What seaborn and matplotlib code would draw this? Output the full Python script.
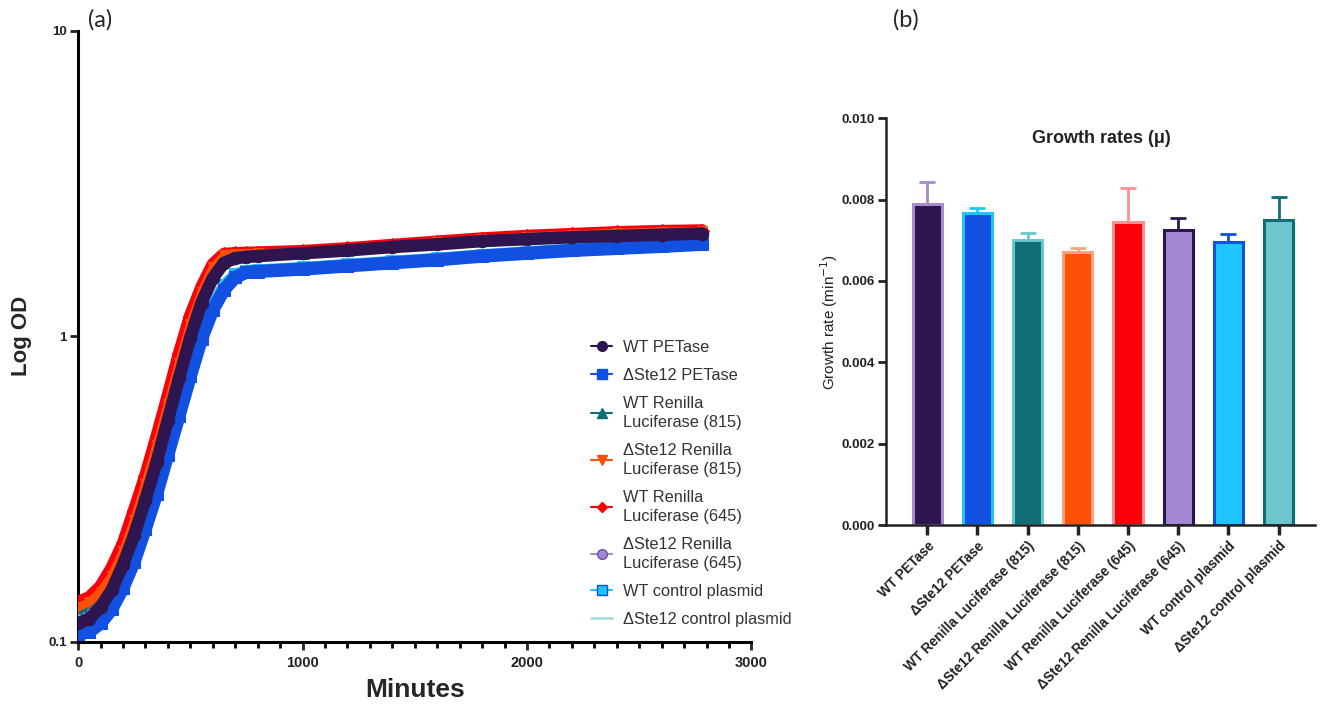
import numpy as np
import pandas as pd
import matplotlib
matplotlib.use("Agg")
import matplotlib.pyplot as plt
import seaborn as sns
from matplotlib.lines import Line2D
from matplotlib.ticker import FixedLocator, MultipleLocator, NullLocator, FormatStrFormatter

sns.set_theme(style="ticks")
plt.rcParams['font.family'] = ['Liberation Sans', 'DejaVu Sans']

# ---------------- data: growth curves (panel a) ----------------
minutes = [0, 50, 100, 150, 200, 250, 300, 350, 400, 450, 500, 550, 600, 650, 700,
           750, 800, 1000, 1200, 1400, 1600, 1800, 2000, 2200, 2400, 2600, 2780]

od_wt_petase = [0.115, 0.119, 0.130, 0.148, 0.179, 0.224, 0.292, 0.388, 0.533, 0.731,
                0.99, 1.29, 1.55, 1.74, 1.80, 1.82, 1.83, 1.87, 1.91, 1.96, 2.00,
                2.05, 2.08, 2.11, 2.13, 2.15, 2.17]
od_ste12_petase = [0.106, 0.108, 0.115, 0.128, 0.150, 0.183, 0.235, 0.305, 0.41, 0.55,
                   0.74, 0.98, 1.22, 1.42, 1.56, 1.62, 1.63, 1.66, 1.70, 1.74, 1.78,
                   1.83, 1.87, 1.91, 1.94, 1.97, 2.00]
od_wt_rl815 = [0.125, 0.129, 0.140, 0.160, 0.192, 0.243, 0.32, 0.43, 0.58, 0.80,
               1.07, 1.37, 1.65, 1.82, 1.85, 1.855, 1.86, 1.88, 1.92, 1.97, 2.02,
               2.07, 2.11, 2.14, 2.17, 2.19, 2.20]
od_ste12_rl815 = [0.130, 0.135, 0.146, 0.165, 0.198, 0.25, 0.33, 0.44, 0.60, 0.82,
                  1.10, 1.40, 1.68, 1.84, 1.86, 1.865, 1.87, 1.89, 1.93, 1.98, 2.03,
                  2.08, 2.12, 2.15, 2.18, 2.20, 2.21]
od_wt_rl645 = [0.135, 0.140, 0.152, 0.175, 0.21, 0.27, 0.35, 0.47, 0.64, 0.88,
               1.17, 1.45, 1.72, 1.86, 1.87, 1.875, 1.88, 1.90, 1.94, 1.99, 2.04,
               2.09, 2.13, 2.16, 2.19, 2.21, 2.22]
od_ste12_rl645 = [0.122, 0.126, 0.137, 0.157, 0.19, 0.24, 0.315, 0.42, 0.57, 0.78,
                  1.05, 1.35, 1.62, 1.80, 1.83, 1.84, 1.85, 1.87, 1.91, 1.96, 2.01,
                  2.06, 2.10, 2.13, 2.16, 2.18, 2.19]
od_wt_control = [0.108, 0.110, 0.118, 0.132, 0.155, 0.19, 0.245, 0.32, 0.43, 0.58,
                 0.78, 1.02, 1.27, 1.47, 1.60, 1.64, 1.65, 1.68, 1.72, 1.76, 1.80,
                 1.85, 1.89, 1.93, 1.96, 1.99, 2.02]
od_ste12_control = [0.113, 0.117, 0.128, 0.146, 0.176, 0.22, 0.288, 0.383, 0.525, 0.72,
                    0.97, 1.27, 1.53, 1.72, 1.79, 1.81, 1.82, 1.86, 1.90, 1.95, 1.99,
                    2.04, 2.07, 2.10, 2.12, 2.14, 2.16]

legend_labels = ["WT PETase", "\u0394Ste12 PETase", "WT Renilla\nLuciferase (815)",
                 "\u0394Ste12 Renilla\nLuciferase (815)", "WT Renilla\nLuciferase (645)",
                 "\u0394Ste12 Renilla\nLuciferase (645)", "WT control plasmid",
                 "\u0394Ste12 control plasmid"]

# ---------------- data: growth rates (panel b) ----------------
strains = ["WT PETase", "\u0394Ste12 PETase", "WT Renilla Luciferase (815)",
           "\u0394Ste12 Renilla Luciferase (815)", "WT Renilla Luciferase (645)",
           "\u0394Ste12 Renilla Luciferase (645)", "WT control plasmid",
           "\u0394Ste12 control plasmid"]
rates = [0.00789, 0.00766, 0.00700, 0.00672, 0.00745, 0.00725, 0.00696, 0.00749]
rate_sd = [0.00055, 0.00013, 0.00017, 0.00008, 0.00083, 0.00030, 0.00020, 0.00058]

# ---------------- styles ----------------
c_dpurple = "#2E1550"
c_blue = "#1150E0"
c_teal = "#0F6E78"
c_orange = "#FB5005"
c_red = "#FA0008"
c_lav = "#A487D2"
c_cyan = "#1EC5FF"
c_lteal = "#6EC6CC"

bar_fill = [c_dpurple, c_blue, c_teal, c_orange, c_red, c_lav, c_cyan, c_lteal]
bar_edge = ["#A58BD0", c_cyan, c_lteal, "#FFA080", "#FF9090", c_dpurple, c_blue, c_teal]

fig = plt.figure(figsize=(13.23, 7.05), dpi=100)
ax1 = fig.add_axes([0.059, 0.0894, 0.509, 0.867])
ax2 = fig.add_axes([0.6697, 0.2553, 0.324, 0.577])

# ---------------- panel a ----------------
curve_specs = [
    # data, color, lw, marker, ms, mfc, mec, zorder
    (od_wt_control, c_cyan, 8, 's', 8, c_cyan, c_cyan, 2),
    (od_ste12_petase, c_blue, 9.5, 's', 9, c_blue, c_blue, 3),
    (od_ste12_control, "#A8DCE0", 3, None, 0, None, None, 3.5),
    (od_wt_rl815, c_teal, 8, '^', 8, c_teal, c_teal, 4),
    (od_wt_rl645, c_red, 9, 'D', 7, c_red, c_red, 5),
    (od_ste12_rl815, c_orange, 6, 'v', 7, c_orange, c_orange, 5.5),
    (od_ste12_rl645, c_lav, 1.2, 'o', 3, c_lav, c_lav, 5.8),
    (od_wt_petase, c_dpurple, 9, 'o', 9, c_dpurple, c_dpurple, 6),
]
for vals, col, lw, mk, ms, mfc, mec, z in curve_specs:
    df = pd.DataFrame({"Minutes": minutes, "OD": vals})
    kw = dict(color=col, linewidth=lw, zorder=z, legend=False, ax=ax1)
    if mk is not None:
        kw.update(marker=mk, markersize=ms, markerfacecolor=mfc, markeredgecolor=mec)
    if col == c_lav:
        kw.update(linestyle=(0, (1.5, 1.5)))
    sns.lineplot(data=df, x="Minutes", y="OD", **kw)

ax1.set_yscale('log')
ax1.set_ylim(0.1, 10)
ax1.set_xlim(0, 3000)
ax1.yaxis.set_major_locator(FixedLocator([0.1, 1, 10]))
ax1.yaxis.set_minor_locator(NullLocator())
ax1.set_yticklabels(["0.1", "1", "10"])
ax1.xaxis.set_major_locator(FixedLocator([0, 1000, 2000, 3000]))
ax1.xaxis.set_minor_locator(MultipleLocator(100))
ax1.set_xticklabels(["0", "1000", "2000", "3000"])
for s in ["top", "right"]:
    ax1.spines[s].set_visible(False)
for s in ["left", "bottom"]:
    ax1.spines[s].set_linewidth(2.2)
    ax1.spines[s].set_color("black")
ax1.tick_params(axis='both', which='major', direction='out', width=2, length=6, color='black')
ax1.tick_params(axis='x', which='minor', direction='out', width=2, length=4, color='black')
ax1.tick_params(axis='x', labelsize=10.5, pad=4, colors='#222222')
ax1.tick_params(axis='y', labelsize=9.5, pad=2, colors='#222222')
for lab in ax1.get_xticklabels() + ax1.get_yticklabels():
    lab.set_fontweight('bold')
ax1.set_xlabel("Minutes", fontsize=19, fontweight='bold', labelpad=6)
ax1.set_ylabel("Log OD", fontsize=16, fontweight='bold', labelpad=12)

handles = [
    Line2D([0], [0], color=c_dpurple, lw=1.5, marker='o', ms=7, mfc=c_dpurple, mec=c_dpurple),
    Line2D([0], [0], color=c_blue, lw=1.5, marker='s', ms=7, mfc=c_blue, mec=c_blue),
    Line2D([0], [0], color=c_teal, lw=1.5, marker='^', ms=7, mfc=c_teal, mec=c_teal),
    Line2D([0], [0], color=c_orange, lw=1.5, marker='v', ms=7, mfc=c_orange, mec=c_orange),
    Line2D([0], [0], color=c_red, lw=1.5, marker='D', ms=5, mfc=c_red, mec=c_red),
    Line2D([0], [0], color=c_lav, lw=1.5, marker='o', ms=7, mfc=c_lav, mec="#6A4FA0"),
    Line2D([0], [0], color=c_cyan, lw=1.5, marker='s', ms=7, mfc=c_cyan, mec=c_blue),
    Line2D([0], [0], color="#A8DCE0", lw=2),
]
leg = fig.legend(handles, legend_labels, loc='upper left',
                 bbox_to_anchor=(591 / 1323, 1 - 340 / 705), frameon=False,
                 fontsize=11.8, handlelength=1.3, handletextpad=0.65,
                 labelspacing=0.8, borderpad=0, borderaxespad=0)
for t in leg.get_texts():
    t.set_color('#333333')
    t.set_linespacing(1.32)

# ---------------- panel b ----------------
df_bar = pd.DataFrame({"Strain": strains, "Rate": rates})
sns.barplot(data=df_bar, x="Strain", y="Rate", hue="Strain", palette=bar_fill,
            legend=False, errorbar=None, width=0.58, linewidth=2.2, ax=ax2,
            saturation=1)
for patch, ec in zip(ax2.patches, bar_edge):
    patch.set_edgecolor(ec)
    patch.set_linewidth(2.2)
for i, (r, sd, ec) in enumerate(zip(rates, rate_sd, bar_edge)):
    ax2.errorbar([i], [r], yerr=[[0], [sd]], fmt='none', ecolor=ec,
                 elinewidth=2, capsize=6, capthick=2, zorder=1)

ax2.set_ylim(0, 0.010)
ax2.set_xlim(-0.82, 7.72)
ax2.yaxis.set_major_locator(FixedLocator([0, 0.002, 0.004, 0.006, 0.008, 0.010]))
ax2.yaxis.set_major_formatter(FormatStrFormatter('%.3f'))
ax2.set_xticks(range(len(strains)))
ax2.set_xticklabels(strains, rotation=45, ha='right', rotation_mode='anchor')
for s in ["top", "right"]:
    ax2.spines[s].set_visible(False)
ax2.spines["left"].set_linewidth(1.8)
ax2.spines["bottom"].set_linewidth(1.8)
ax2.spines["left"].set_color("#222222")
ax2.spines["bottom"].set_color("#222222")
ax2.tick_params(axis='y', direction='out', width=2, length=6, labelsize=9.5, pad=2,
                colors='#222222')
ax2.tick_params(axis='x', direction='out', width=2.5, length=7, labelsize=9.8, pad=3,
                colors='#222222')
for lab in ax2.get_xticklabels() + ax2.get_yticklabels():
    lab.set_fontweight('bold')
ax2.set_xlabel("")
ax2.set_ylabel("Growth rate (min$^{-1}$)", fontsize=11, labelpad=1, color='#222222')
ax2.text(0.503, 0.951, "Growth rates (\u03bc)", transform=ax2.transAxes,
         ha='center', va='center', fontsize=13, fontweight='bold', color='#222222')

# panel tags
fig.text(88 / 1323, 1 - 20 / 705, "(a)", fontsize=17, family=['Lato', 'DejaVu Sans'],
         ha='left', va='center')
fig.text(893 / 1323, 1 - 20 / 705, "(b)", fontsize=17, family=['Lato', 'DejaVu Sans'],
         ha='left', va='center')

fig.savefig("out.png", dpi=100)
